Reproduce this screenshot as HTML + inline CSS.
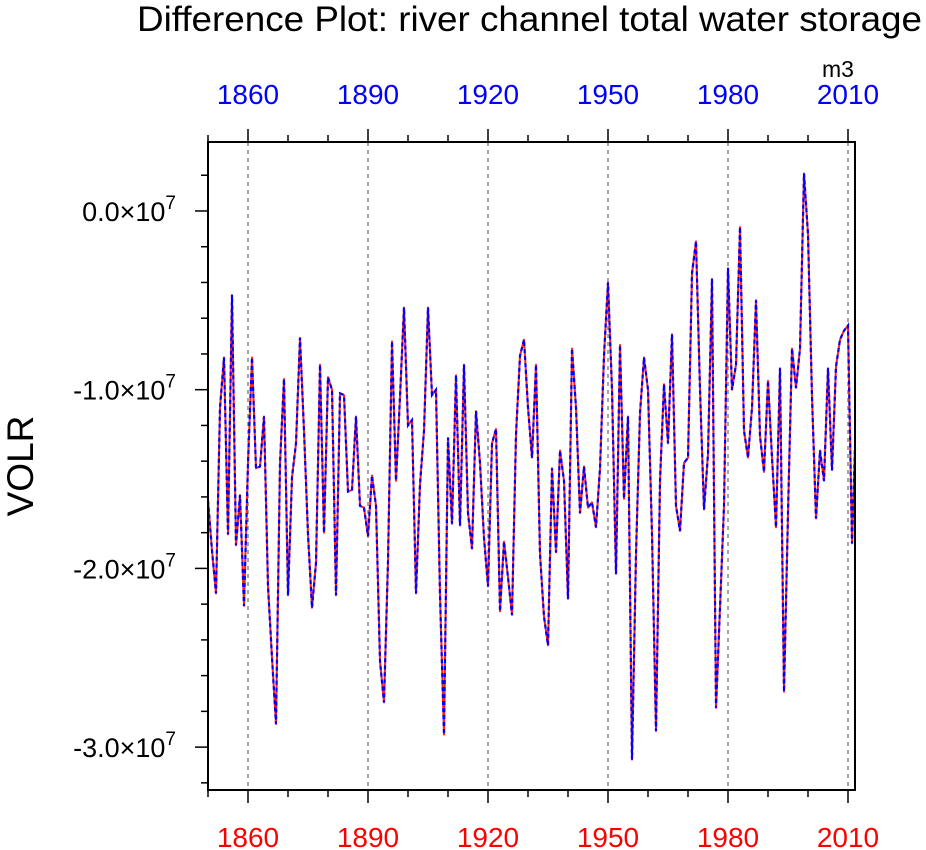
<!DOCTYPE html>
<html><head><meta charset="utf-8"><style>
html,body{margin:0;padding:0;background:#fff;}
svg{display:block;font-family:"Liberation Sans",sans-serif;}
</style></head><body>
<svg id="chart" width="926" height="850">
<text x="922" y="31" text-anchor="end" font-size="35" textLength="785" lengthAdjust="spacingAndGlyphs">Difference Plot: river channel total water storage</text>
<text x="838" y="77" text-anchor="middle" font-size="23">m3</text>
<text transform="translate(33,466) rotate(-90)" text-anchor="middle" font-size="37">VOLR</text>
<g id="grid"></g><g id="axes"></g><g id="series"></g>
<rect x="208" y="142" width="647" height="648" fill="none" stroke="#000" stroke-width="2"/>
</svg>
<script>
const years = [];
for (let y = 1850; y <= 2012; y++) years.push(y);
const values = [-1.62,-1.9,-2.14,-1.1,-0.82,-1.81,-0.47,-1.87,-1.59,-2.21,-1.41,
-0.82,-1.44,-1.43,-1.15,-2.1,-2.5,-2.87,-1.41,-0.94,-2.15,
-1.49,-1.3,-0.71,-1.23,-1.81,-2.22,-1.97,-0.86,-1.8,-0.93,
-1.0,-2.15,-1.02,-1.03,-1.57,-1.56,-1.15,-1.65,-1.66,-1.82,
-1.48,-1.65,-2.52,-2.75,-1.96,-0.73,-1.51,-1.04,-0.54,-1.2,
-1.17,-2.14,-1.53,-1.23,-0.54,-1.03,-1.0,-2.15,-2.93,-1.27,
-1.75,-0.92,-1.76,-0.86,-1.69,-1.89,-1.12,-1.41,-1.83,-2.1,
-1.3,-1.22,-2.24,-1.85,-2.05,-2.26,-1.25,-0.81,-0.72,-1.1,
-1.38,-0.86,-1.92,-2.27,-2.43,-1.44,-1.91,-1.34,-1.51,-2.17,
-0.77,-1.1,-1.69,-1.43,-1.66,-1.63,-1.77,-1.44,-0.81,-0.4,
-1.0,-2.03,-0.75,-1.61,-1.15,-3.07,-1.92,-1.13,-0.82,-1.0,
-1.81,-2.91,-1.51,-0.97,-1.3,-0.69,-1.65,-1.79,-1.41,-1.38,
-0.35,-0.17,-1.0,-1.67,-1.36,-0.38,-2.78,-2.22,-1.65,-0.32,
-1.0,-0.86,-0.09,-1.23,-1.38,-1.1,-0.5,-1.26,-1.46,-0.95,
-1.38,-1.77,-0.88,-2.69,-1.69,-0.77,-0.99,-0.77,0.21,-0.13,
-1.04,-1.72,-1.34,-1.51,-0.88,-1.45,-0.87,-0.72,-0.67,-0.64,
-1.86,-1.14];
const xTicks = [1860,1890,1920,1950,1980,2010];
const yTicks = [0,-1,-2,-3];
const NS="http://www.w3.org/2000/svg";
const X0=208,X1=855,Y0=142,Y1=790;
const xMin=1850,xMax=2011.75,yTopV=0.386,yBotV=-3.24;
function xs(v){return X0+(v-xMin)/(xMax-xMin)*(X1-X0);}
function ys(v){return Y0+(yTopV-v)/(yTopV-yBotV)*(Y1-Y0);}
function mk(tag,attrs,parent){const e=document.createElementNS(NS,tag);for(const k in attrs)e.setAttribute(k,attrs[k]);parent.appendChild(e);return e;}
const grid=document.getElementById('grid'),axes=document.getElementById('axes'),ser=document.getElementById('series');
xTicks.forEach(t=>{
  const x=xs(t);
  const g=mk('line',{x1:x,x2:x,y1:Y0,y2:Y1,stroke:'#777','stroke-width':1.3,'stroke-dasharray':'4,4'},grid);
  
  
  const tl=mk('text',{x:x,y:104,'text-anchor':'middle','font-size':28,fill:'#0000ff'},axes);
  tl.textContent=t;
  
  
  const bl=mk('text',{x:x,y:847,'text-anchor':'middle','font-size':28,fill:'#ff0000'},axes);
  bl.textContent=t;
  
  
});
for(let t=1850;t<=2010;t+=10){
  const x=xs(t);const major=xTicks.includes(t);const L=major?13:7;
  mk('line',{x1:x,x2:x,y1:Y0,y2:Y0-L,stroke:'#000','stroke-width':1.5},axes);
  mk('line',{x1:x,x2:x,y1:Y1,y2:Y1+L,stroke:'#000','stroke-width':1.5},axes);
}
for(let i=1;i>=-16;i--){
  const v=i*0.2;const y=ys(v);if(y<Y0||y>Y1)continue;
  const major=Math.abs(v-Math.round(v))<1e-6;const L=major?13:7;
  mk('line',{x1:X0,x2:X0-L,y1:y,y2:y,stroke:'#000','stroke-width':1.5},axes);
}
yTicks.forEach(t=>{
  const y=ys(t);
  const tx=mk('text',{x:176,y:y+10,'text-anchor':'end','font-size':27},axes);
  tx.innerHTML=t.toFixed(1)+'\u00d710<tspan dy="-12" font-size="19">7</tspan>';
  
  
});
const cp=mk('clipPath',{id:'clip'},document.getElementById('chart'));
mk('rect',{x:X0,y:Y0,width:X1-X0,height:Y1-Y0},cp);
const pts=years.map((y,i)=>xs(y).toFixed(1)+','+ys(values[i]).toFixed(1)).join(' ');
const red=mk('polyline',{points:pts,fill:'none',stroke:'#ff2020','stroke-width':2,'clip-path':'url(#clip)','stroke-linejoin':'round'},ser);


const blue=mk('polyline',{points:pts,fill:'none',stroke:'#0000ff','stroke-width':2.2,'stroke-dasharray':'4,3','clip-path':'url(#clip)'},ser);


</script>
</body></html>
